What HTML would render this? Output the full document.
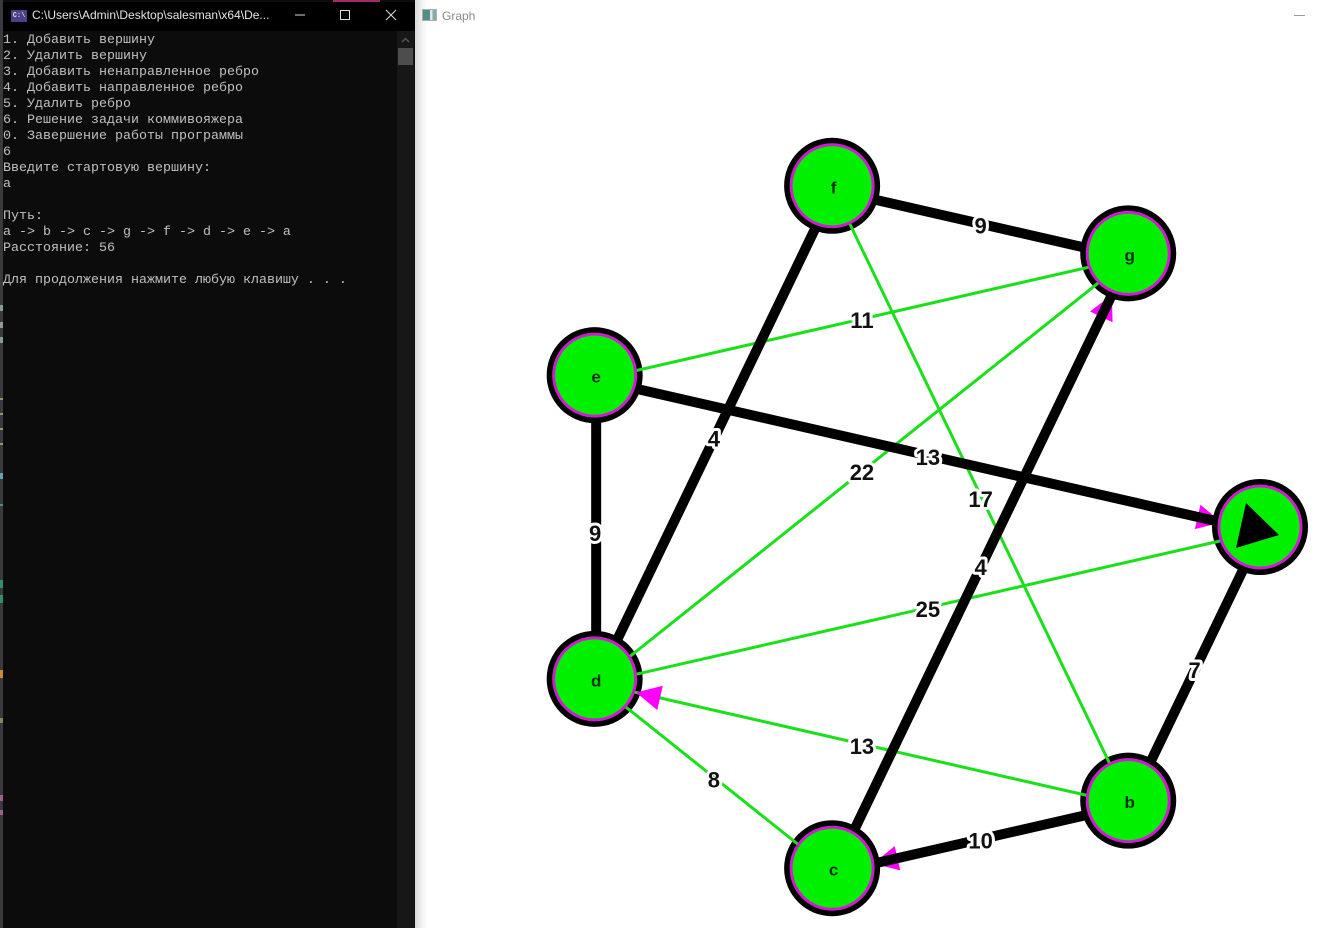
<!DOCTYPE html>
<html lang="ru">
<head>
<meta charset="utf-8">
<title>Graph</title>
<style>
html,body{margin:0;padding:0;background:#fff;width:1320px;height:928px;overflow:hidden}
#console{position:absolute;left:0;top:0;width:415px;height:928px;background:#0c0c0c;overflow:hidden}
#strip{position:absolute;left:0;top:0;width:3px;height:928px;background:#3a3a3c}
#titlebar{position:absolute;left:3px;top:2px;width:412px;height:29px;background:#000}
#title{position:absolute;left:32px;top:7px;color:#e4e4e4;font:12px "Liberation Sans",sans-serif;white-space:nowrap;line-height:16px}
#con-icon{position:absolute;left:11px;top:10px;width:16px;height:12px;background:#4b3f86;border:0;color:#ddd;font:bold 7px/12px "Liberation Mono",monospace;text-align:center}
.wbtn{position:absolute;top:8px;width:16px;height:14px}
#text{position:absolute;left:3px;top:33px;margin:0;color:#c0c0c0;font:13.33px/16px "Liberation Mono","DejaVu Sans Mono",monospace;white-space:pre}
#scroll{position:absolute;left:397px;top:31px;width:17px;height:897px;background:#171717}
#thumb{position:absolute;left:1px;top:17px;width:15px;height:17px;background:#4d4d4d}
.tick{position:absolute;left:0;width:3px}
#graphwin{position:absolute;left:415px;top:0;width:905px;height:928px;background:#fff}
#shade{position:absolute;left:0;top:0;width:12px;height:928px;background:linear-gradient(90deg,#dcdcdc,#fff)}
#gtitle{position:absolute;left:27px;top:8px;color:#8a8a8a;font:12px/16px "Liberation Sans",sans-serif}
#gicon{position:absolute;left:7px;top:9px;width:13px;height:10px;border:1px solid #a8b0b4;background:linear-gradient(90deg,#4f8f88 0 55%,#dfe6ea 55% 75%,#8aa 75%)}
#gmin{position:absolute;left:879px;top:15px;width:11px;height:1px;background:#999}
#graph{position:absolute;left:0;top:0}
</style>
</head>
<body>
<div id="console">
  <div id="titlebar"></div>
  <div id="con-icon">C:\</div>
  <div id="title">C:\Users\Admin\Desktop\salesman\x64\De...</div>
  <svg class="wbtn" style="left:292px" viewBox="0 0 16 14"><path d="M3 7H13" stroke="#ddd" fill="none"/></svg>
  <svg class="wbtn" style="left:337px" viewBox="0 0 16 14"><rect x="3.5" y="2.5" width="9" height="9" stroke="#ddd" fill="none"/></svg>
  <svg class="wbtn" style="left:383px" viewBox="0 0 16 14"><path d="M3 2L13 12M13 2L3 12" stroke="#ddd" fill="none"/></svg>
  <pre id="text">1. Добавить вершину
2. Удалить вершину
3. Добавить ненаправленное ребро
4. Добавить направленное ребро
5. Удалить ребро
6. Решение задачи коммивояжера
0. Завершение работы программы
6
Введите стартовую вершину:
a

Путь:
a -&gt; b -&gt; c -&gt; g -&gt; f -&gt; d -&gt; e -&gt; a
Расстояние: 56

Для продолжения нажмите любую клавишу . . .</pre>
  <div id="scroll">
    <svg width="17" height="17" style="position:absolute;left:0;top:0"><path d="M5 11L8.5 7.5L12 11" stroke="#555" stroke-width="1.5" fill="none"/></svg>
    <div id="thumb"></div>
  </div>
  <div id="strip">
    <div class="tick" style="top:305px;height:6px;background:#8a9a9a"></div>
    <div class="tick" style="top:322px;height:6px;background:#8a9a9a"></div>
    <div class="tick" style="top:337px;height:6px;background:#8a9a9a"></div>
    <div class="tick" style="top:398px;height:2px;background:#99946a"></div>
    <div class="tick" style="top:413px;height:2px;background:#99946a"></div>
    <div class="tick" style="top:428px;height:2px;background:#99946a"></div>
    <div class="tick" style="top:443px;height:2px;background:#99946a"></div>
    <div class="tick" style="top:473px;height:6px;background:#5fa3b0"></div>
    <div class="tick" style="top:504px;height:2px;background:#2f9a85"></div>
    <div class="tick" style="top:580px;height:8px;background:#2f8f65"></div>
    <div class="tick" style="top:595px;height:8px;background:#2f8f65"></div>
    <div class="tick" style="top:670px;height:8px;background:#c98a2f"></div>
    <div class="tick" style="top:718px;height:5px;background:#8f7f60"></div>
    <div class="tick" style="top:795px;height:6px;background:#a0608a"></div>
    <div class="tick" style="top:810px;height:5px;background:#a0608a"></div>
  </div>
</div>
<div id="graphwin">
  <div id="shade"></div>
  <div id="gicon"></div>
  <div id="gtitle">Graph</div>
  <div id="gmin"></div>
</div>
<div style="position:absolute;left:333px;top:0;width:47px;height:2px;background:#a02a6a"></div>
<svg id="graph" width="1320" height="928" viewBox="0 0 1320 928"></svg>
<script>
// Graph data
var nodeNames = ['a','b','c','d','e','f','g'];
var startNode = 'a';
var edgeFrom    = ['f','e','f','d','d','e','d','d','c','a','b','c','b'];
var edgeTo      = ['g','g','b','f','g','a','e','a','g','b','d','d','c'];
var edgeWeights = [ 9 , 11, 17, 4 , 22, 13, 9 , 25, 4 , 7 , 13, 8 , 10];
var edgeInPath  = [ 1 , 0 , 0 , 1 , 0 , 1 , 1 , 0 , 1 , 1 , 0 , 0 , 1 ];
var edgeArrow   = [ 0 , 0 , 0 , 0 , 0 , 1 , 0 , 0 , 1 , 0 , 1 , 0 , 1 ];

var NS = 'http://www.w3.org/2000/svg';
var svg = document.getElementById('graph');
function nodeIndex(n){ return nodeNames.indexOf(n); }
function nodeX(n){ return 910 + 350 * Math.cos(2 * Math.PI * nodeIndex(n) / nodeNames.length); }
function nodeY(n){ return 527 + 350 * Math.sin(2 * Math.PI * nodeIndex(n) / nodeNames.length); }
function anchorX(n){ return nodeX(n) + 1.5; }
function anchorY(n){ return nodeY(n) + 4.5; }
function make(tag, attrs){
  var el = document.createElementNS(NS, tag);
  for (var k in attrs) el.setAttribute(k, attrs[k]);
  svg.appendChild(el);
  return el;
}
function drawArrow(i){
  var x1 = anchorX(edgeFrom[i]), y1 = anchorY(edgeFrom[i]);
  var x2 = anchorX(edgeTo[i]), y2 = anchorY(edgeTo[i]);
  var d = Math.hypot(x2 - x1, y2 - y1), ux = (x2 - x1) / d, uy = (y2 - y1) / d;
  var tx = x2 - ux * 41, ty = y2 - uy * 41;
  var bx = tx - ux * 24.5, by = ty - uy * 24.5;
  var p = [tx, ty, bx - uy * 12.5, by + ux * 12.5, bx + uy * 12.5, by - ux * 12.5];
  var a = make('polygon', {points: p.join(' '), fill: '#ff00ff'});
  
  
}
function drawEdge(i){
  var bold = edgeInPath[i] === 1;
  var l = make('line', {
    x1: anchorX(edgeFrom[i]), y1: anchorY(edgeFrom[i]),
    x2: anchorX(edgeTo[i]), y2: anchorY(edgeTo[i]),
    stroke: bold ? '#000' : '#1ae01a', 'stroke-width': bold ? 10 : 3
  });
  
  
}
// black outlines
nodeNames.forEach(function(n){
  var c = make('circle', {cx: nodeX(n), cy: nodeY(n), r: 48, fill: '#000'});
  
  
});
// non-path edges below, path edges above
edgeFrom.forEach(function(_, i){ if (!edgeInPath[i]) drawEdge(i); });
edgeFrom.forEach(function(_, i){ if (!edgeInPath[i] && edgeArrow[i]) drawArrow(i); });
edgeFrom.forEach(function(_, i){ if (edgeInPath[i] && edgeArrow[i]) drawArrow(i); });
edgeFrom.forEach(function(_, i){ if (edgeInPath[i]) drawEdge(i); });
// node faces
nodeNames.forEach(function(n){
  var c = make('circle', {cx: nodeX(n), cy: nodeY(n), r: 41, fill: '#00f000', stroke: '#d01cd0', 'stroke-width': 3});
  
  
  if (n === startNode) {
    var x = nodeX(n), y = nodeY(n);
    var t = make('polygon', {points: [x - 14, y - 24, x + 19, y + 8, x - 24, y + 21].join(' '), fill: '#000'});
    
    
  } else {
    var s = make('text', {x: nodeX(n) + 1.5, y: nodeY(n) + 7.5, 'text-anchor': 'middle', 'font-family': '"Liberation Sans",sans-serif', 'font-weight': 'bold', 'font-size': 17, fill: '#053005'});
    s.textContent = n;
    
    
  }
});
// weights
edgeWeights.forEach(function(w, i){
  var mx = (anchorX(edgeFrom[i]) + anchorX(edgeTo[i])) / 2 - 1;
  var my = (anchorY(edgeFrom[i]) + anchorY(edgeTo[i])) / 2 + 9.5;
  var t = make('text', {x: mx, y: my, 'text-anchor': 'middle', 'font-family': '"Liberation Sans",sans-serif', 'font-weight': 'bold', 'font-size': 22, fill: '#111', stroke: '#fff', 'stroke-width': 6, 'paint-order': 'stroke', 'stroke-linejoin': 'round'});
  t.textContent = String(w);
  
  
});
</script>
</body>
</html>
